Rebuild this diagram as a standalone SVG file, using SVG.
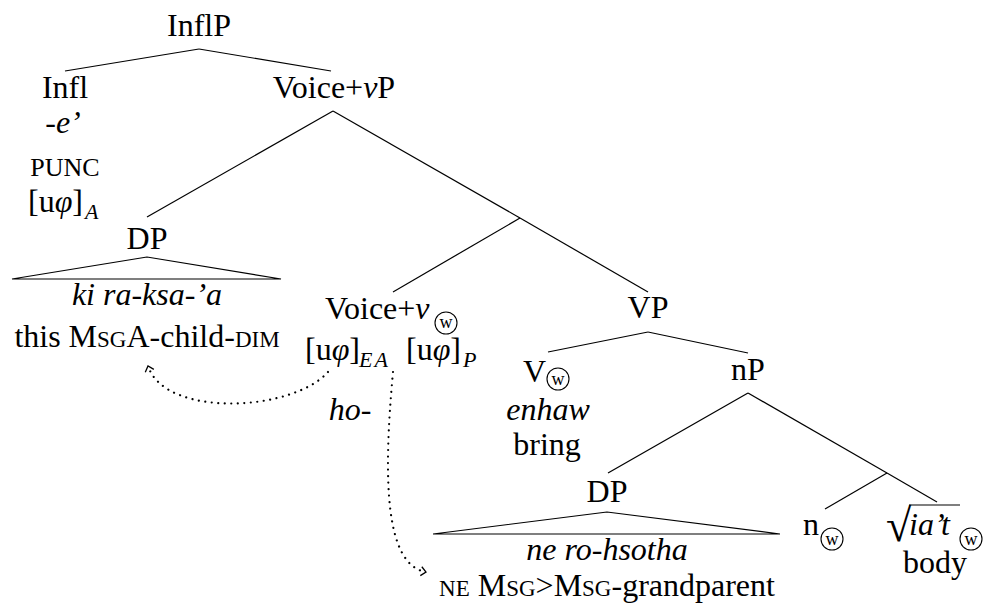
<svg xmlns="http://www.w3.org/2000/svg" width="986" height="605" viewBox="0 0 986 605">
<style>
text { font-family: "Liberation Serif", "Times New Roman", serif; font-size: 32px; fill: #000; }
.m { text-anchor: middle; }
.it { font-style: italic; }
.sc { font-size: 23px; }
.pn { font-size: 26px; }
.rad { font-size: 46px; }
.sub { font-size: 22px; font-style: italic; }
.cw { font-size: 18px; text-anchor: middle; }
.circ { fill: none; stroke: #000; stroke-width: 1.1; }
.edge { stroke: #000; stroke-width: 1.2; fill: none; }
.roof { stroke: #000; stroke-width: 1.2; fill: none; stroke-linejoin: miter; }
.dots { stroke: #000; stroke-width: 2.2; fill: none; stroke-linecap: round; stroke-dasharray: 0.01 6.5; }
</style>
<defs>
<marker id="chev" markerUnits="userSpaceOnUse" markerWidth="14" markerHeight="14" refX="0" refY="0" viewBox="-8 -7 10 14" orient="auto">
<path d="M-5,-4.5 L0,0 L-5,4.5" fill="none" stroke="#000" stroke-width="1.3"/>
</marker>
</defs>

<g id="connectors">
<line class="edge" x1="199" y1="49" x2="65" y2="71"/>
<line class="edge" x1="199" y1="49" x2="331" y2="71"/>
<line class="edge" x1="333" y1="111" x2="147" y2="217"/>
<line class="edge" x1="333" y1="111" x2="520" y2="218"/>
<line class="edge" x1="520" y1="218" x2="648" y2="292"/>
<line class="edge" x1="520" y1="218" x2="393" y2="292"/>
<line class="edge" x1="648" y1="332" x2="548" y2="352"/>
<line class="edge" x1="648" y1="332" x2="748" y2="353"/>
<line class="edge" x1="748" y1="393" x2="608" y2="473"/>
<line class="edge" x1="748" y1="393" x2="887" y2="473"/>
<line class="edge" x1="887" y1="473" x2="937" y2="502"/>
<line class="edge" x1="887" y1="473" x2="825" y2="509"/>
<path class="dots" d="M328,372 C292,412 165,418 148,366" marker-end="url(#chev)"/>
<path class="dots" d="M393,372 C383,480 385,565 426,572" marker-end="url(#chev)"/>
</g>

<g id="InflP">
<text class="m" x="199" y="36">InflP</text>
</g>

<g id="Infl">
<text class="m" x="65" y="98">Infl</text>
<text class="m it" x="63" y="133">-e’</text>
<text class="m pn" x="65" y="176">PUNC</text>
<text x="28" y="212">[u<tspan class="it">φ</tspan>]</text>
<text class="sub" x="85" y="219">A</text>
</g>

<g id="VoicevP">
<text class="m" x="334" y="98">Voice+<tspan class="it">v</tspan>P</text>
</g>

<g id="DP1">
<text class="m" x="147" y="249">DP</text>
<polygon class="roof" points="147,257 12,279 281,279"/>
<text class="m it" x="147" y="305">ki ra-ksa-’a</text>
<text class="m" x="147" y="347">this M<tspan class="sc">SG</tspan>A-child-<tspan class="sc">DIM</tspan></text>
</g>

<g id="Voicev">
<text x="325" y="319">Voice+<tspan class="it">v</tspan></text>
<circle class="circ" cx="446" cy="323" r="11"/>
<text class="cw" x="446" y="328">w</text>
<text x="305" y="360">[u<tspan class="it">φ</tspan>]</text>
<text class="sub" x="359" y="367" letter-spacing="2">EA</text>
<text x="406" y="360">[u<tspan class="it">φ</tspan>]</text>
<text class="sub" x="463" y="367">P</text>
<text class="m it" x="350" y="420">ho-</text>
</g>

<g id="VP">
<text class="m" x="648" y="318">VP</text>
</g>

<g id="V">
<text x="523" y="382">V</text>
<circle class="circ" cx="558" cy="379" r="11"/>
<text class="cw" x="558" y="385">w</text>
<text class="m it" x="548" y="420">enhaw</text>
<text class="m" x="547" y="455">bring</text>
</g>

<g id="nP">
<text class="m" x="748" y="380">nP</text>
</g>

<g id="DP2">
<text class="m" x="607" y="502">DP</text>
<polygon class="roof" points="607,512 433,534 780,534"/>
<text class="m it" x="607" y="560">ne ro-hsotha</text>
<text class="m" x="607" y="596"><tspan class="sc">NE</tspan> M<tspan class="sc">SG</tspan>&gt;M<tspan class="sc">SG</tspan>-grandparent</text>
</g>

<g id="n">
<text x="803" y="535">n</text>
<circle class="circ" cx="832" cy="539" r="11"/>
<text class="cw" x="832" y="545">w</text>
</g>

<g id="root">
<text class="rad" x="886" y="541">√</text>
<line class="edge" x1="909" y1="505" x2="960" y2="505"/>
<text class="it" x="909" y="535">ia’t</text>
<circle class="circ" cx="971" cy="539" r="11"/>
<text class="cw" x="971" y="545">w</text>
<text class="m" x="935" y="573">body</text>
</g>
</svg>
